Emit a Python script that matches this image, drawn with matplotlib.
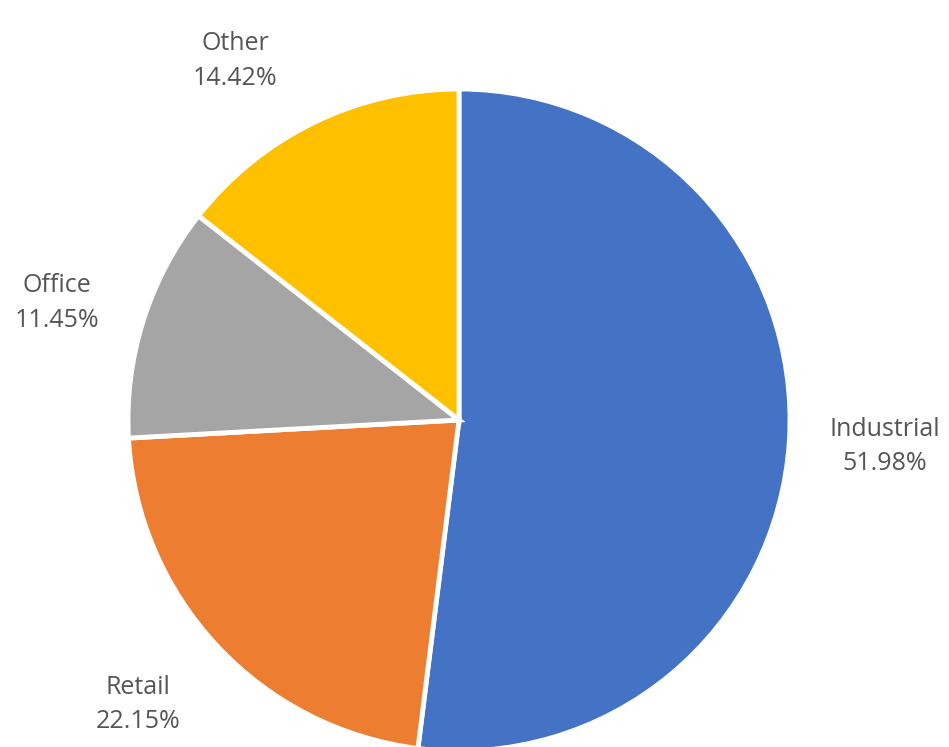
import matplotlib.pyplot as plt

# Share by sector, clockwise from 12 o'clock
sectors = ["Industrial", "Retail", "Office", "Other"]
shares = [51.98, 22.15, 11.45, 14.42]
colors = ["#4472C4", "#ED7D31", "#A5A5A5", "#FFC000"]

# label centres in pie units (radius = 1)
label_pos = {
    "Industrial": (1.285, -0.08),
    "Retail": (-0.97, -0.86),
    "Office": (-1.215, 0.353),
    "Other": (-0.677, 1.085),
}

W, H = 949, 747
cx, cy, r = 459, 420, 331

fig = plt.figure(figsize=(W / 100, H / 100), dpi=100)
ax = fig.add_axes([(cx - r) / W, (H - cy - r) / H, 2 * r / W, 2 * r / H])

ax.pie(shares, colors=colors, startangle=90, counterclock=False, radius=1.0,
       wedgeprops=dict(edgecolor="white", linewidth=3.5),
       frame=True)
ax.set_xlim(-1, 1)
ax.set_ylim(-1, 1)
ax.axis("off")

for name, val in zip(sectors, shares):
    x, y = label_pos[name]
    ax.text(x, y, f"{name}\n{val:.2f}%", ha="center", va="center",
            fontsize=18, color="#555555", family="Open Sans",
            linespacing=1.5, clip_on=False)

fig.savefig("out.png", dpi=100)
